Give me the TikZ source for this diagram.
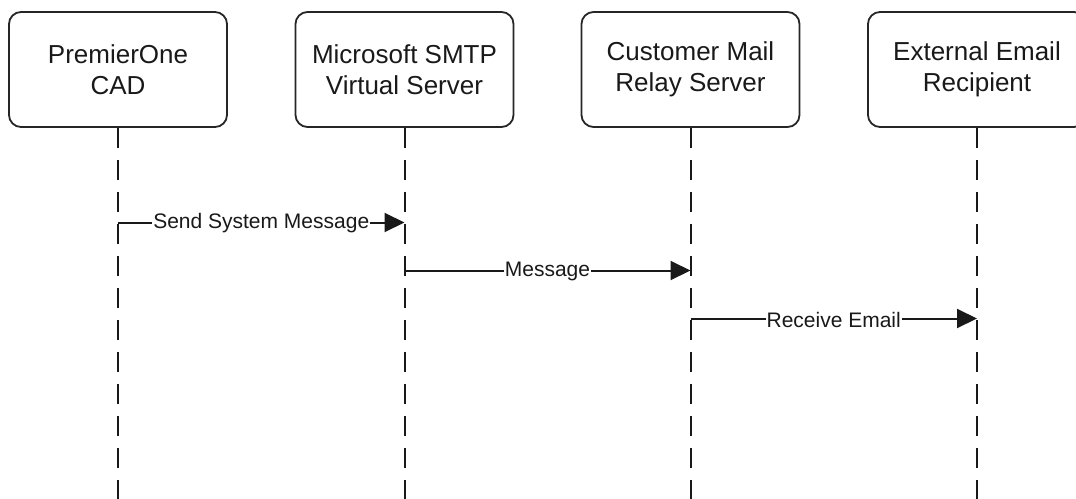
\documentclass[tikz,border=0pt]{standalone}
\usepackage{fontspec}
\setmainfont{Liberation Sans}
\usetikzlibrary{arrows.meta}
\begin{document}
\begin{tikzpicture}[x=1pt,y=-1pt,
 actor/.style={draw=black!85, line width=1.8pt, rounded corners=12pt, minimum width=218pt, minimum height=115pt, align=center, font=\fontsize{26}{31}\selectfont, text=black!90, inner sep=0pt},
 life/.style={line width=2pt, dash pattern=on 20pt off 12pt, black!90},
 msg/.style={line width=2pt, black!90, -{Triangle[length=20pt,width=19pt]}},
 lbl/.style={fill=white, inner sep=1pt, font=\fontsize{21}{25}\selectfont, text=black!90}]
\path[use as bounding box] (0,0) rectangle (1076,498);
\clip (0,0) rectangle (1076,498);
\node[actor] (a) at (118,69.5) {PremierOne\\CAD};
\node[actor] (b) at (404.5,69.5) {Microsoft SMTP\\Virtual Server};
\node[actor] (c) at (690.5,69.5) {Customer Mail\\Relay Server};
\node[actor] (d) at (977,69.5) {External Email\\Recipient};
\coordinate (ae) at (118,500);
\coordinate (be) at (404.5,500);
\coordinate (ce) at (690.5,500);
\coordinate (de) at (977,500);
\draw[life] (a.south) -- (ae);
\draw[life] (b.south) -- (be);
\draw[life] (c.south) -- (ce);
\draw[life] (d.south) -- (de);
\coordinate (a1) at (118,222.5);
\coordinate (b1) at (404.5,222.5);
\coordinate (b2) at (404.5,270.5);
\coordinate (c2) at (690.5,270.5);
\coordinate (c3) at (690.5,318.5);
\coordinate (d3) at (977,318.5);
\draw[msg] (a1) -- node[lbl, yshift=-1pt] {Send System Message} (b1);
\draw[msg] (b2) -- node[lbl, yshift=-1pt] {Message} (c2);
\draw[msg] (c3) -- node[lbl, yshift=-1pt] {Receive Email} (d3);
\end{tikzpicture}
\end{document}
